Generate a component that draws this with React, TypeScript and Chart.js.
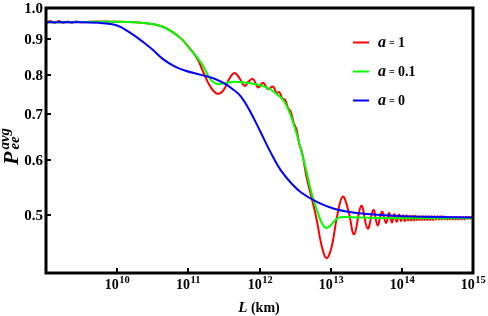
import React, { useEffect, useRef } from "react";
import { Chart, registerables } from "chart.js";
Chart.register(...registerables);

// ---- data (x given as log10 of L in km) ----
const xTickExps = [10, 11, 12, 13, 14, 15];
const yTickValues = [0.5, 0.6, 0.7, 0.8, 0.9, 1.0];
const legendValues = ["1", "0.1", "0"];
const legendColors = ["#ff0000", "#00ff00", "#0000ff"];

const blueExp = [9.0, 9.5, 9.8, 10.0, 10.17, 10.36, 10.5, 10.64, 10.8, 10.95, 11.18, 11.35, 11.5, 11.62, 11.74, 11.88, 12.02, 12.16, 12.3, 12.45, 12.59, 12.82, 13.05, 13.29, 13.61, 14.09, 14.5, 15.0];
const blueP = [0.953, 0.953, 0.950, 0.943, 0.922, 0.893, 0.869, 0.843, 0.823, 0.811, 0.799, 0.790, 0.777, 0.762, 0.743, 0.703, 0.658, 0.615, 0.580, 0.555, 0.538, 0.521, 0.510, 0.504, 0.500, 0.497, 0.496, 0.495];

const greenExp = [9.0, 9.5, 10.0, 10.41, 10.64, 10.87, 11.01, 11.18, 11.32, 11.41, 11.51, 11.65, 11.88, 12.07, 12.2, 12.35, 12.49, 12.63, 12.73, 12.82, 12.88, 12.94, 13.02, 13.1, 13.2, 13.4, 14.0, 15.0];
const greenP = [0.953, 0.954, 0.955, 0.950, 0.939, 0.908, 0.875, 0.832, 0.785, 0.775, 0.777, 0.781, 0.777, 0.768, 0.755, 0.730, 0.672, 0.595, 0.538, 0.503, 0.485, 0.478, 0.485, 0.494, 0.496, 0.495, 0.494, 0.494];

const redExp = [9.0, 9.06, 9.12, 9.18, 9.24, 9.3, 9.36, 9.42, 9.5, 9.6, 10.0, 10.41, 10.64, 10.87, 11.01, 11.13, 11.22, 11.32, 11.41, 11.49, 11.58, 11.65, 11.72, 11.79, 11.85, 11.91, 11.98, 12.05, 12.12, 12.19, 12.24, 12.28, 12.32, 12.36, 12.40, 12.44, 12.48, 12.52, 12.56, 12.60, 12.66, 12.73, 12.80, 12.87, 12.94, 13.01, 13.09, 13.17, 13.25, 13.33, 13.43, 13.52, 13.60, 13.66, 13.72, 13.778, 13.821, 13.860, 13.896, 13.929, 13.960, 13.989, 14.016, 14.041, 14.065, 14.088, 14.110, 14.130, 14.150, 14.169, 14.187, 14.204, 14.22, 14.24, 14.26, 14.28, 14.30, 14.32, 14.34, 14.36, 14.38, 14.40, 14.42, 14.44, 14.46, 14.48, 14.50, 14.52, 14.54, 14.56, 14.58, 14.60, 14.62, 14.64, 14.66, 14.68, 14.70, 14.72, 14.74, 14.76, 14.78, 14.80, 14.82, 14.84, 14.86, 14.88, 14.90, 14.92, 14.94, 14.96, 14.98, 15.00];
const redP = [0.951, 0.957, 0.951, 0.957, 0.952, 0.956, 0.952, 0.956, 0.953, 0.955, 0.955, 0.950, 0.939, 0.908, 0.876, 0.842, 0.802, 0.765, 0.750, 0.758, 0.790, 0.804, 0.790, 0.770, 0.782, 0.788, 0.766, 0.778, 0.762, 0.768, 0.752, 0.754, 0.738, 0.735, 0.715, 0.706, 0.680, 0.665, 0.633, 0.615, 0.568, 0.530, 0.494, 0.452, 0.432, 0.447, 0.497, 0.531, 0.506, 0.468, 0.515, 0.477, 0.508, 0.482, 0.505, 0.486, 0.503, 0.487, 0.501, 0.488, 0.500, 0.489, 0.499, 0.489, 0.499, 0.490, 0.498, 0.490, 0.498, 0.490, 0.498, 0.491, 0.497, 0.491, 0.497, 0.491, 0.497, 0.491, 0.497, 0.491, 0.497, 0.491, 0.497, 0.491, 0.497, 0.492, 0.497, 0.492, 0.497, 0.492, 0.497, 0.492, 0.496, 0.492, 0.496, 0.492, 0.496, 0.492, 0.496, 0.492, 0.496, 0.492, 0.496, 0.492, 0.496, 0.492, 0.496, 0.493, 0.496, 0.493, 0.496, 0.493, 0.495];

const X_MIN = 1e9;
const X_MAX = 1e15;
const Y_MIN = 0.411;
const Y_MAX = 1.0;

const SERIF = "'Liberation Serif', 'Times New Roman', serif";

const toPts = (e: number[], p: number[]) => e.map((v, i) => ({ x: Math.pow(10, v), y: p[i] }));

const decorPlugin = {
  id: "decor",
  afterDraw(chart: any) {
    const { ctx, chartArea: a, scales } = chart;
    const xs = scales.x;
    const ys = scales.y;
    ctx.save();
    // frame
    ctx.strokeStyle = "#000";
    ctx.lineWidth = 3;
    ctx.strokeRect(a.left, a.top, a.right - a.left, a.bottom - a.top);
    // ticks
    ctx.lineWidth = 2;
    ctx.fillStyle = "#000";
    for (const v of yTickValues) {
      const y = Math.round(ys.getPixelForValue(v));
      ctx.beginPath();
      ctx.moveTo(a.left, y);
      ctx.lineTo(a.left + 5, y);
      ctx.stroke();
      ctx.font = `bold 15px ${SERIF}`;
      ctx.textAlign = "right";
      ctx.textBaseline = "middle";
      ctx.fillText(v.toFixed(1), a.left - 3, y + 1);
    }
    for (const e of xTickExps) {
      const x = Math.round(xs.getPixelForValue(Math.pow(10, e)));
      ctx.beginPath();
      ctx.moveTo(x, a.bottom);
      ctx.lineTo(x, a.bottom - 5);
      ctx.stroke();
      ctx.font = `bold 14px ${SERIF}`;
      const wb = ctx.measureText("10").width;
      ctx.font = `bold 10.5px ${SERIF}`;
      const we = ctx.measureText(String(e)).width;
      const start = x - (wb + we) / 2;
      ctx.textAlign = "left";
      ctx.textBaseline = "alphabetic";
      ctx.font = `bold 14px ${SERIF}`;
      ctx.fillText("10", start, 289);
      ctx.font = `bold 10.5px ${SERIF}`;
      ctx.fillText(String(e), start + wb + 0.5, 283);
    }
    // x title
    ctx.font = `italic bold 15px ${SERIF}`;
    const wL = ctx.measureText("L").width;
    ctx.font = `bold 14px ${SERIF}`;
    const wK = ctx.measureText(" (km)").width;
    const cx = 259;
    const sx = cx - (wL + wK) / 2;
    ctx.textAlign = "left";
    ctx.textBaseline = "alphabetic";
    ctx.font = `italic bold 15px ${SERIF}`;
    ctx.fillText("L", sx, 312);
    ctx.font = `bold 14px ${SERIF}`;
    ctx.fillText(" (km)", sx + wL, 312);
    // y title
    ctx.save();
    ctx.translate(18, 165);
    ctx.rotate(-Math.PI / 2);
    ctx.font = `italic bold 22px ${SERIF}`;
    ctx.fillText("P", 0, 0);
    const wP = ctx.measureText("P").width;
    ctx.font = `italic bold 15px ${SERIF}`;
    ctx.fillText("avg", wP + 2, -9);
    ctx.fillText("ee", wP + 2, 1);
    ctx.restore();
    // legend
    const rows = [42.5, 71.5, 100.5];
    for (let i = 0; i < 3; i++) {
      const y = rows[i];
      ctx.strokeStyle = legendColors[i];
      ctx.lineWidth = 2;
      ctx.beginPath();
      ctx.moveTo(353, y);
      ctx.lineTo(369, y);
      ctx.stroke();
      ctx.fillStyle = "#000";
      ctx.textBaseline = "alphabetic";
      ctx.font = `italic bold 16px ${SERIF}`;
      ctx.fillText("a", 378, y + 4.5);
      ctx.font = `bold 10px ${SERIF}`;
      ctx.fillText("=", 389, y + 3.5);
      ctx.font = `bold 14px ${SERIF}`;
      ctx.fillText(legendValues[i], 398, y + 4.5);
    }
    ctx.restore();
  },
};

export default function App() {
  const ref = useRef<HTMLCanvasElement | null>(null);
  useEffect(() => {
    if (!ref.current) return;
    const line = (data: any, color: string, tension: number) => ({
      data,
      borderColor: color,
      backgroundColor: color,
      borderWidth: 2,
      pointRadius: 0,
      tension,
      fill: false,
    });
    const chart = new Chart(ref.current, {
      type: "line",
      data: {
        datasets: [
          line(toPts(blueExp, blueP), "#0000ff", 0.4),
          line(toPts(greenExp, greenP), "#00ff00", 0.4),
          line(toPts(redExp, redP), "#ff0000", 0.4),
        ],
      },
      options: {
        animation: false,
        responsive: false,
        layout: { padding: { top: 8, right: 15, left: 0, bottom: 0 } },
        plugins: { legend: { display: false }, tooltip: { enabled: false } },
        scales: {
          x: {
            type: "logarithmic",
            min: X_MIN,
            max: X_MAX,
            ticks: { display: false },
            grid: { display: false, drawTicks: false },
            border: { display: false },
            afterFit: (s: any) => {
              s.height = 43;
            },
          },
          y: {
            type: "logarithmic",
            min: Y_MIN,
            max: Y_MAX,
            ticks: { display: false },
            grid: { display: false, drawTicks: false },
            border: { display: false },
            afterFit: (s: any) => {
              s.width = 46;
            },
          },
        },
      } as any,
      plugins: [decorPlugin],
    });
    return () => chart.destroy();
  }, []);
  return (
    <div style={{ position: "fixed", left: 0, top: 0, width: 488, height: 316, background: "#fff" }}>
      <canvas ref={ref} width={488} height={316} style={{ display: "block" }} />
    </div>
  );
}
